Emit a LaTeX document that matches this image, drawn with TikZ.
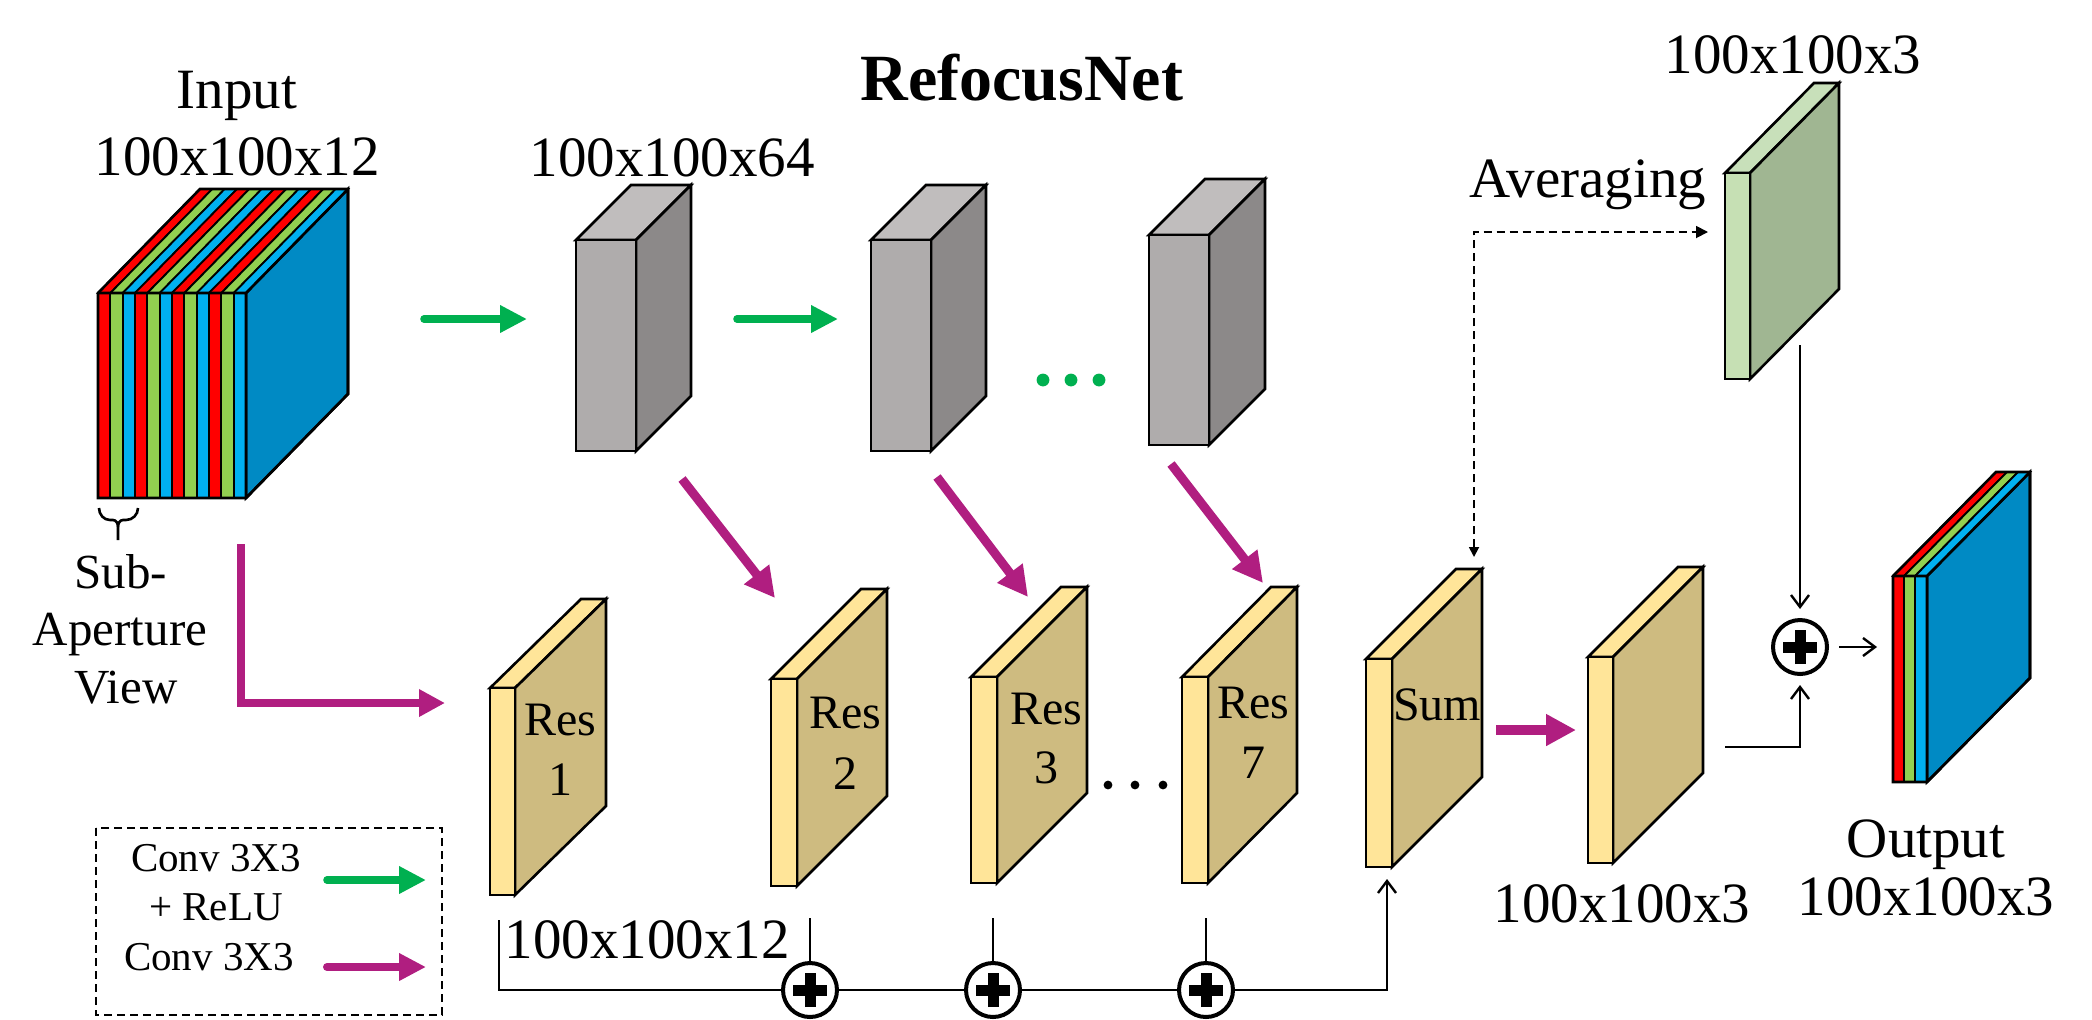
\documentclass[tikz,border=0pt]{standalone}
\usepackage{fontspec}
\setmainfont{Liberation Serif}
\usetikzlibrary{arrows.meta,calc}

\definecolor{cred}{RGB}{255,0,0}
\definecolor{cgreen}{RGB}{146,208,80}
\definecolor{cblue}{RGB}{0,176,240}
\definecolor{cside}{RGB}{0,138,196}
\definecolor{grayF}{RGB}{175,172,172}
\definecolor{grayT}{RGB}{192,189,189}
\definecolor{grayS}{RGB}{140,137,137}
\definecolor{resF}{RGB}{255,229,153}
\definecolor{resT}{RGB}{255,229,153}
\definecolor{resS}{RGB}{206,187,128}
\definecolor{avgF}{RGB}{198,224,180}
\definecolor{avgT}{RGB}{200,224,186}
\definecolor{avgS}{RGB}{160,182,146}
\definecolor{convgreen}{RGB}{0,176,80}
\definecolor{magent}{RGB}{176,30,128}

\tikzset{
  blockline/.style={draw=black, line width=1.3pt},
  lbl/.style={font=\fontsize{28.5}{34}\selectfont, anchor=base, inner sep=0pt},
  reslbl/.style={font=\fontsize{24}{29}\selectfont, anchor=base, inner sep=0pt},
  sublbl/.style={font=\fontsize{24.5}{29}\selectfont, anchor=base, inner sep=0pt},
  leglbl/.style={font=\fontsize{20.5}{25}\selectfont, anchor=base, inner sep=0pt},
  titlelbl/.style={font=\fontsize{33}{40}\selectfont\bfseries, anchor=base, inner sep=0pt},
  convarrow/.style={convgreen, line width=3.8pt, line cap=round, -{Triangle[length=13.5pt,width=13pt]}},
  resarrow/.style={magent, line width=4.5pt, -{Triangle[length=15pt,width=15pt]}},
  legmag/.style={magent, line width=4pt, line cap=round, -{Triangle[length=13.5pt,width=13pt]}},
  conn/.style={draw=black, line width=1.2pt},
  connarrow/.style={conn, -{Straight Barb[length=6pt,width=9pt]}},
  plusnode/.style={circle, draw=black, line width=2pt, fill=white, minimum size=27pt, inner sep=0pt,
    path picture={
      \draw[line width=5.5pt] ([xshift=-8.5pt]path picture bounding box.center) -- ([xshift=8.5pt]path picture bounding box.center);
      \draw[line width=5.5pt] ([yshift=-8.5pt]path picture bounding box.center) -- ([yshift=8.5pt]path picture bounding box.center);
    }},
}

% \slab{name}{x1}{y1}{x2}{y2}{dx}{dy}{colour prefix}
\newcommand\slab[8]{%
  \filldraw[fill=#8T, blockline] (#2,#3) -- ({#2+#6},{#3-#7}) -- ({#4+#6},{#3-#7}) -- (#4,#3) -- cycle;
  \filldraw[fill=#8S, blockline] (#4,#3) -- ({#4+#6},{#3-#7}) -- ({#4+#6},{#5-#7}) -- (#4,#5) -- cycle;
  \filldraw[fill=#8F, blockline] (#2,#3) rectangle (#4,#5);
  \coordinate (#1) at ({(#2+#4)/2},{(#3+#5)/2});
}

\begin{document}
\begin{tikzpicture}[x=0.5pt,y=-0.5pt]
\useasboundingbox (0,0) rectangle (2092,1019);

% ---------- title ----------
\node[titlelbl] (title) at (1022,100) {RefocusNet};

% ---------- input cube ----------
\filldraw[fill=cside, blockline] (246,293) -- (348,189) -- (348,394) -- (246,498) -- cycle;
\foreach \i/\c in {0/cred,1/cgreen,2/cblue,3/cred,4/cgreen,5/cblue,6/cred,7/cgreen,8/cblue,9/cred,10/cgreen,11/cblue}{
  \pgfmathsetmacro\xa{98+\i*148/12}
  \pgfmathsetmacro\xb{98+(\i+1)*148/12}
  \filldraw[fill=\c, draw=black, line width=0.9pt] (\xa,293) -- ({\xa+102},189) -- ({\xb+102},189) -- (\xb,293) -- cycle;
  \filldraw[fill=\c, draw=black, line width=0.9pt] (\xa,293) rectangle (\xb,498);
}
\draw[blockline] (98,293) -- (200,189) -- (348,189) -- (348,394) -- (246,498) -- (98,498) -- cycle;
\draw[blockline] (98,293) -- (246,293) -- (348,189) (246,293) -- (246,498);
\coordinate (input) at (172,395);
\node[lbl] (inlbl1) at (237,108) {Input};
\node[lbl] (inlbl2) at (237,175) {100x100x12};

% brace
\draw[line width=1.3pt] (99,508) to[out=-90,in=180] (110,520) -- (113,520) to[out=0,in=90] (118,527) -- (118,540);
\draw[line width=1.3pt] (138,508) to[out=-90,in=0] (126,520) -- (123,520) to[out=180,in=90] (118,527);
\node[sublbl] (sub1) at (121,588) {Sub-};
\node[sublbl] (sub2) at (120,645) {Aperture};
\node[sublbl] (sub3) at (126,703) {View};

% ---------- gray conv blocks ----------
\slab{g1}{576}{240}{636}{451}{55}{55}{gray}
\slab{g2}{871}{240}{931}{451}{55}{55}{gray}
\slab{g3}{1149}{235}{1209}{445}{56}{56}{gray}
\node[lbl] (glbl) at (672,176) {100x100x64};

\coordinate (ga1s) at (424,319); \coordinate (ga1e) at (527,319);
\coordinate (ga2s) at (737,319); \coordinate (ga2e) at (838,319);
\draw[convarrow] (ga1s) -- (ga1e);
\draw[convarrow] (ga2s) -- (ga2e);
\foreach \x [count=\k] in {1043,1071,1099}{
  \fill[convgreen] (\x,380) circle (3.2pt) coordinate (gdot\k);
}

% ---------- res blocks ----------
\slab{r1}{490}{688}{515}{895}{91}{89}{res}
\slab{r2}{771}{679}{797}{886}{90}{90}{res}
\slab{r3}{971}{677}{997}{883}{90}{90}{res}
\slab{r7}{1182}{677}{1208}{883}{89}{90}{res}
\node[reslbl] (r1a) at (560,735) {Res};
\node[reslbl] (r1b) at (560,795) {1};
\node[reslbl] (r2a) at (845,728) {Res};
\node[reslbl] (r2b) at (845,789) {2};
\node[reslbl] (r3a) at (1046,724) {Res};
\node[reslbl] (r3b) at (1046,783) {3};
\node[reslbl] (r7a) at (1253,718) {Res};
\node[reslbl] (r7b) at (1253,778) {7};
\foreach \x [count=\k] in {1108,1135,1163}{
  \fill[black] (\x,785) circle (2.2pt) coordinate (bdot\k);
}

% magenta diagonal arrows
\coordinate (d1s) at (682,479); \coordinate (d1e) at (775,598);
\coordinate (d2s) at (937,477); \coordinate (d2e) at (1028,597);
\coordinate (d3s) at (1171,464); \coordinate (d3e) at (1263,583);
\draw[resarrow] (d1s) -- (d1e);
\draw[resarrow] (d2s) -- (d2e);
\draw[resarrow] (d3s) -- (d3e);

% L-shaped magenta arrow
\coordinate (ls) at (241,544); \coordinate (lc) at (241,703); \coordinate (le) at (445,703);
\draw[magent, line width=4pt, -{Triangle[length=13pt,width=13pt]}] (ls) -- (lc) -- (le);

% ---------- sum and following ----------
\slab{sum}{1366}{659}{1392}{867}{90}{90}{res}
\node[reslbl] (sumlbl) at (1437,720) {Sum};
\slab{conv}{1588}{657}{1613}{863}{90}{90}{res}
\node[lbl] (convlbl) at (1622,922) {100x100x3};
\coordinate (sa) at (1496,730); \coordinate (sb) at (1576,730);
\draw[magent, line width=5pt, -{Triangle[length=15pt,width=15pt]}] (sa) -- (sb);

% ---------- averaging block ----------
\slab{avg}{1725}{173}{1750}{379}{89}{90}{avg}
\node[lbl] (avglbl) at (1793,73) {100x100x3};
\node[lbl] (avgtext) at (1588,197) {Averaging};
\coordinate (dsum) at (1474,557);
\coordinate (dcorner) at (1474,232);
\coordinate (davg) at (1708,232);
\draw[line width=0.9pt, dash pattern=on 4pt off 2.5pt, {Triangle[length=5pt,width=5pt]}-{Triangle[length=6pt,width=6pt]}] (dsum) -- (dcorner) -- (davg);

% ---------- bottom skip line ----------
\node[plusnode] (p1) at (810,990) {};
\node[plusnode] (p2) at (993,990) {};
\node[plusnode] (p3) at (1206,990) {};
\coordinate (bl0) at (499,920);
\coordinate (bl1) at (499,990);
\coordinate (bl2) at (1387,990);
\coordinate (bl3) at (1387,879);
\draw[conn] (bl0) -- (bl1) -- (p1.west);
\draw[conn] (p1.east) -- (p2.west);
\draw[conn] (p2.east) -- (p3.west);
\draw[connarrow] (p3.east) -- (bl2) -- (bl3);
\coordinate (t1) at (810,918); \coordinate (t2) at (993,918); \coordinate (t3) at (1206,918);
\draw[conn] (t1) -- (p1.north);
\draw[conn] (t2) -- (p2.north);
\draw[conn] (t3) -- (p3.north);
\node[lbl] (reslbl12) at (647,958) {100x100x12};

% ---------- final sum and output ----------
\node[plusnode] (p4) at (1800,647) {};
\coordinate (avgdown) at (1800,345);
\draw[connarrow, shorten >=4.5pt] (avgdown) -- (p4.north);
\coordinate (cv0) at (1725,747);
\coordinate (cv1) at (1800,747);
\draw[connarrow, shorten >=4.5pt] (cv0) -- (cv1) -- (p4.south);

% output slab
\filldraw[fill=cside, blockline] (1927,576) -- (2030,472) -- (2030,678) -- (1927,782) -- cycle;
\foreach \xa/\xb/\c in {1893/1904/cred,1904/1915/cgreen,1915/1927/cblue}{
  \filldraw[fill=\c, draw=black, line width=0.9pt] (\xa,576) -- ({\xa+103},472) -- ({\xb+103},472) -- (\xb,576) -- cycle;
  \filldraw[fill=\c, draw=black, line width=0.9pt] (\xa,576) rectangle (\xb,782);
}
\draw[blockline] (1893,576) -- (1996,472) -- (2030,472) -- (2030,678) -- (1927,782) -- (1893,782) -- cycle;
\draw[blockline] (1893,576) -- (1927,576) -- (2030,472) (1927,576) -- (1927,782);
\coordinate (output) at (1893,647);
\draw[connarrow, shorten <=5pt, shorten >=8pt] (p4.east) -- (output);
\node[lbl] (outlbl1) at (1926,857) {Output};
\node[lbl] (outlbl2) at (1926,915) {100x100x3};

% ---------- legend ----------
\draw[line width=1pt, dash pattern=on 4pt off 2.5pt] (96,828) rectangle (442,1015);
\node[leglbl] (leg1) at (216,871) {Conv 3X3};
\node[leglbl] (leg2) at (216,920) {+ ReLU};
\node[leglbl] (leg3) at (209,970) {Conv 3X3};
\coordinate (lg1s) at (327,880); \coordinate (lg1e) at (426,880);
\coordinate (lg2s) at (327,967); \coordinate (lg2e) at (426,967);
\draw[convarrow] (lg1s) -- (lg1e);
\draw[legmag] (lg2s) -- (lg2e);
\end{tikzpicture}
\end{document}
